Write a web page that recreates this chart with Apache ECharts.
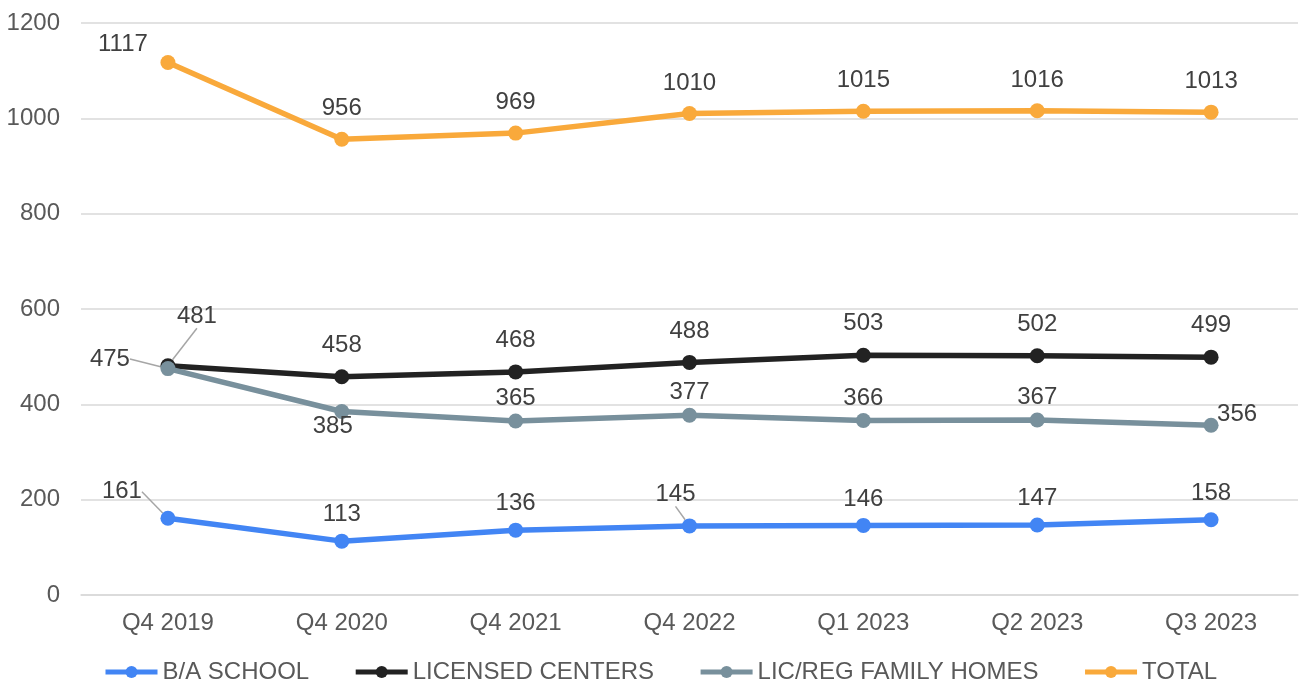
<!DOCTYPE html>
<html>
<head>
	<meta charset="UTF-8">
	<title>Counts by quarter</title>
	<style>
		html, body { margin: 0; padding: 0; background: #fff; }
		#container { width: 1300px; height: 685px; }
	</style>
</head>
<body>
	<div id="container"></div>
	<script src="https://cdn.jsdelivr.net/npm/echarts@6/dist/echarts.min.js"></script>
	<script>
		var categories = ['Q4 2019', 'Q4 2020', 'Q4 2021', 'Q4 2022', 'Q1 2023', 'Q2 2023', 'Q3 2023'];
		var schoolVals = [161, 113, 136, 145, 146, 147, 158];
		var centerVals = [481, 458, 468, 488, 503, 502, 499];
		var homeVals = [475, 385, 365, 377, 366, 367, 356];
		var totalVals = [1117, 956, 969, 1010, 1015, 1016, 1013];
		var yTicks = [0, 200, 400, 600, 800, 1000, 1200];

		var FONT = 'Liberation Sans, Arial, sans-serif';

		// label moves: [dx, dy, leader line?]
		var moved = {
			'B/A SCHOOL': { 0: [-46, 0, true], 3: [-14, -5, true] },
			'LICENSED CENTERS': { 0: [29, -18, true] },
			'LIC/REG FAMILY HOMES': { 0: [-58, 13, true], 1: [-9, 37, false], 6: [26, 12, false] },
			'TOTAL': { 0: [-45, 12, false] }
		};

		function makeData(name, vals) {
			return vals.map(function (v, i) {
				var m = moved[name] && moved[name][i];
				return { value: v, labelLine: { show: !!(m && m[2]) } };
			});
		}

		function makeSeries(name, vals, color, dist) {
			return {
				name: name,
				type: 'line',
				data: makeData(name, vals),
				symbol: 'circle',
				symbolSize: 15,
				lineStyle: { width: 5.5, color: color },
				itemStyle: { color: color },
				label: { show: true, position: 'top', distance: dist, fontFamily: FONT, fontSize: 24, color: '#404040' },
				labelLine: { show: false, lineStyle: { color: '#a6a6a6', width: 1.5 } },
				labelLayout: function (p) {
					var m = moved[name] && moved[name][p.dataIndex];
					return m ? { dx: m[0], dy: m[1] } : {};
				},
				emphasis: { disabled: true },
				animation: false
			};
		}

		var dom = document.getElementById('container');
		var myChart = echarts.init(dom);
		var option = {
			backgroundColor: '#ffffff',
			grid: { left: 81, right: 2, top: 23, bottom: 90 },
			legend: {
				top: 655,
				left: 98,
				itemWidth: 52,
				itemHeight: 15,
				itemGap: 44,
				lineStyle: { width: 5 },
				textStyle: { fontFamily: FONT, fontSize: 24, color: '#595959' },
				data: ['B/A SCHOOL', 'LICENSED CENTERS', 'LIC/REG FAMILY HOMES', 'TOTAL']
			},
			xAxis: {
				type: 'category',
				data: categories,
				boundaryGap: true,
				axisLine: { lineStyle: { color: '#d9d9d9', width: 1.5 } },
				axisTick: { show: false },
				axisLabel: { fontFamily: FONT, fontSize: 24, color: '#595959', margin: 16 }
			},
			yAxis: {
				type: 'value',
				min: yTicks[0],
				max: yTicks[yTicks.length - 1],
				interval: yTicks[1] - yTicks[0],
				axisLine: { show: false },
				axisTick: { show: false },
				splitLine: { lineStyle: { color: '#d9d9d9', width: 1.5 } },
				axisLabel: {
					fontFamily: FONT, fontSize: 24, color: '#595959', margin: 21,
					formatter: function (v) { return String(v); }
				}
			},
			series: [
				makeSeries('B/A SCHOOL', schoolVals, '#4285f4', 7),
				makeSeries('LICENSED CENTERS', centerVals, '#222222', 12),
				makeSeries('LIC/REG FAMILY HOMES', homeVals, '#78909c', 3),
				makeSeries('TOTAL', totalVals, '#f9a93b', 11)
			]
		};
		myChart.setOption(option);
	</script>
</body>
</html>
